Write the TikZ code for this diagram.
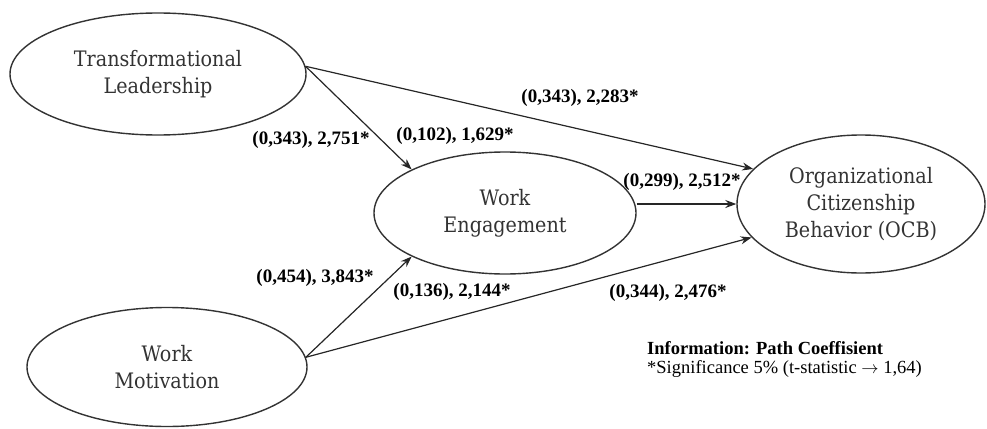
\documentclass[tikz,border=0pt]{standalone}
\usepackage{fontspec}
\setmainfont{Liberation Serif}
\newfontfamily\constructfont{DejaVu Serif Condensed}
\usetikzlibrary{arrows.meta, positioning, shapes.geometric}
\definecolor{textgray}{HTML}{333333}
\newcommand\legendfont{\fontsize{18.5}{19.5}\selectfont}
\tikzstyle{arrow} = [line width=1.2pt, draw=black!85, -{Stealth[length=11pt, width=8pt]}]
\tikzstyle{construct} = [draw=black!80, ellipse, line width=1.4pt, inner sep=0pt, align=center, text=textgray, font=\constructfont\fontsize{21.3}{27}\selectfont]
\tikzstyle{coef} = [font=\bfseries\fontsize{19}{21}\selectfont]

\begin{document}
\begin{tikzpicture}[x=1pt, y=-1pt]
  \useasboundingbox (0,0) rectangle (987,428);
  % Nodes
  \node (tl) [construct, minimum width=296pt, minimum height=122pt] at (158,74) {Transformational\\Leadership};
  \node (we) [construct, minimum width=262pt, minimum height=122pt] at (505,213) {Work\\Engagement};
  \node (ocb) [construct, minimum width=248pt, minimum height=138pt] at (861,204) {Organizational\\Citizenship\\Behavior (OCB)};
  \node (wm) [construct, minimum width=280pt, minimum height=119pt] at (167,367) {Work\\Motivation};

  % Arrows
  \draw[arrow] (tl.3) -- (we.155);
  \draw[arrow] (tl.3) -- (ocb.162);
  \draw[arrow] (we.east |- ocb.west) -- (ocb.west);
  \draw[arrow] (wm.4) -- (we.205);
  \draw[arrow] (wm.4) -- (ocb.197);

  % Coefficients
  \node (c1) [coef] at (311,140) {(0,343), 2,751*};
  \node (c2) [coef] at (455,136) {(0,102), 1,629*};
  \node (c3) [coef] at (580,98) {(0,343), 2,283*};
  \node (c4) [coef] at (682,182) {(0,299), 2,512*};
  \node (c5) [coef] at (315,278) {(0,454), 3,843*};
  \node (c6) [coef] at (452,292) {(0,136), 2,144*};
  \node (c7) [coef] at (668,293) {(0,344), 2,476*};

  % Legend
  \node (info) [anchor=north west, inner sep=0pt, align=left, font=\legendfont] at (647,341)
    {\textbf{Information: Path Coeffisient}\\ {*}Significance 5\% (t-statistic $\rightarrow$ 1,64)};
\end{tikzpicture}
\end{document}
